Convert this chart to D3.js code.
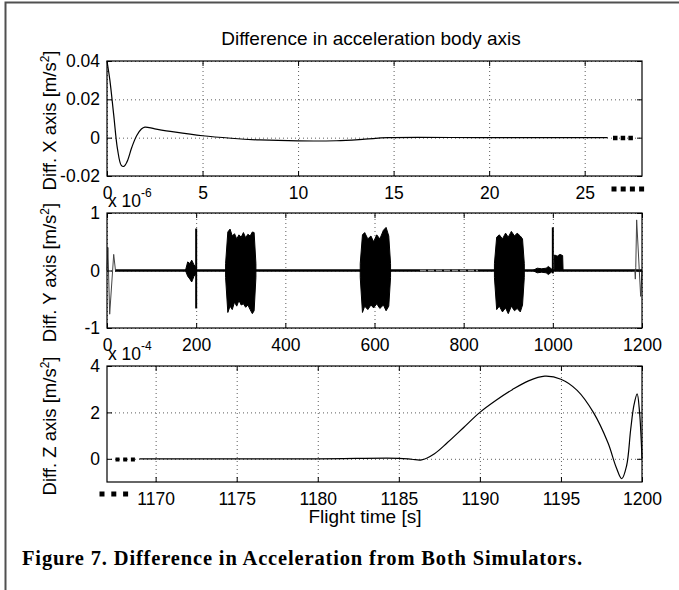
<!DOCTYPE html>
<html>
<head>
<meta charset="utf-8">
<script src="https://cdn.jsdelivr.net/npm/d3@7"></script>
<style>
  body { margin: 0; background: #fff; }
  svg { display: block; font-family: "Liberation Sans", Arial, sans-serif; }
  .grid line { stroke: #333; stroke-width: 0.8; stroke-dasharray: 1 3; }
  .grid .domain { display: none; }
</style>
</head>
<body>
<div id="chart"></div>
<script>
// values

// top panel: difference in X, first seconds
var topTime = [0, 0.15, 0.35, 0.55, 0.75, 0.88, 1.05, 1.3, 1.55, 1.8, 1.98, 2.5, 3.5, 5, 6.5, 8, 10, 12, 13.5, 14.7, 20, 26.2];
var topDiff = [0.04, 0.03, 0.012, -0.006, -0.0145, -0.015, -0.0125, -0.005, 0.001, 0.0045, 0.0055, 0.0046, 0.003, 0.001, -0.0003, -0.0012, -0.0017, -0.0016, -0.0008, 0, 0, 0];
var topXTicks = [0, 5, 10, 15, 20, 25];
var topYTicks = [-0.02, 0, 0.02, 0.04];

// middle panel: difference in Y (x 1e-6), whole flight
var midXTicks = [0, 200, 400, 600, 800, 1000, 1200];
var midYTicks = [-1, 0, 1];
var midBaseTime = [18, 1200];
var midFaintTime = [702, 832];
var midStartTime = [0, 2, 6, 15, 19];
var midStartDiff = [0, 0.4, -0.76, 0.28, 0];
var midEndTime = [1184, 1185, 1186, 1188, 1197, 1200];
var midEndDiff = [0, -0.15, 0.05, 0.88, -0.45, 0];
var midSpikeTime = [200, 1000];
var midSpikeLo = [-0.66, -0.05];
var midSpikeHi = [0.73, 0.75];

var burstTime = [
  [176, 181, 186, 190, 195, 200],
  [266, 271, 276, 281, 286, 291, 296, 301, 306, 311, 316, 321, 326, 330, 334],
  [568, 573, 578, 585, 592, 598, 605, 612, 620, 626, 632, 636],
  [869, 874, 880, 887, 894, 900, 907, 914, 920, 927, 932, 936],
  [955, 965, 975, 985, 990, 998],
  [1003, 1004, 1010, 1016, 1022, 1023]
];
var burstHi = [
  [0, 0.15, 0.12, 0.18, 0.1, 0.05],
  [0.12, 0.67, 0.72, 0.6, 0.64, 0.55, 0.62, 0.58, 0.66, 0.57, 0.63, 0.6, 0.67, 0.66, 0.12],
  [0.12, 0.62, 0.66, 0.55, 0.6, 0.5, 0.62, 0.55, 0.7, 0.75, 0.6, 0.12],
  [0.12, 0.58, 0.62, 0.55, 0.65, 0.58, 0.68, 0.6, 0.65, 0.6, 0.55, 0.12],
  [0, 0.04, 0.03, 0.04, 0.07, 0.02],
  [0, 0.27, 0.25, 0.28, 0.26, 0]
];
var burstLo = [
  [0, -0.1, -0.15, -0.2, -0.1, -0.05],
  [-0.12, -0.73, -0.62, -0.68, -0.55, -0.62, -0.52, -0.6, -0.58, -0.64, -0.6, -0.68, -0.75, -0.7, -0.12],
  [-0.12, -0.73, -0.62, -0.68, -0.6, -0.65, -0.58, -0.66, -0.6, -0.7, -0.62, -0.12],
  [-0.12, -0.68, -0.62, -0.72, -0.65, -0.75, -0.62, -0.7, -0.66, -0.72, -0.6, -0.12],
  [0, -0.04, -0.03, -0.04, -0.07, -0.02],
  [0, 0, 0, 0, 0, 0]
];

// bottom panel: difference in Z (x 1e-4), last seconds
var botTime = [1169, 1180, 1185, 1185.8, 1186.4, 1187.2, 1188, 1189, 1190, 1191, 1192, 1193, 1194, 1195, 1196, 1197, 1197.9, 1198.4, 1198.75, 1199.05, 1199.3, 1199.5, 1199.7, 1199.85, 1200];
var botDiff = [0, 0, 0.02, -0.02, -0.05, 0.22, 0.7, 1.35, 2.0, 2.52, 2.98, 3.36, 3.56, 3.43, 2.95, 2.0, 0.69, -0.35, -0.86, -0.3, 1.25, 2.3, 2.8, 2.0, 0];
var botXTicks = [1170, 1175, 1180, 1185, 1190, 1195, 1200];
var botYTicks = [0, 2, 4];

var W = 679, H = 590;
var left = 107, right = 642;

var svg = d3.select("#chart").append("svg")
  .attr("width", W)
  .attr("height", H);

// page frame (top and left edges only)
svg.append("path")
  .attr("d", "M5.5,590 V2.5 H679")
  .attr("fill", "none")
  .attr("stroke", "#505050")
  .attr("stroke-width", 2);

function drawPanel(cfg) {
  var w = right - left, h = cfg.bottom - cfg.top;
  var x = d3.scaleLinear().domain(cfg.xDomain).range([0, w]);
  var y = d3.scaleLinear().domain(cfg.yDomain).range([h, 0]);

  var g = svg.append("g")
    .attr("transform", "translate(" + left + "," + cfg.top + ")");

  // dotted grid
  g.append("g").attr("class", "grid")
    .attr("transform", "translate(0," + h + ")")
    .call(d3.axisBottom(x).tickValues(cfg.xTicks).tickSize(-h).tickFormat(""));
  g.append("g").attr("class", "grid")
    .call(d3.axisLeft(y).tickValues(cfg.yTicks).tickSize(-w).tickFormat(""));

  var plot = g.append("g");
  cfg.draw(plot, x, y);

  // axes with inward ticks on all four sides
  var xb = g.append("g")
    .attr("transform", "translate(0," + h + ")")
    .call(d3.axisBottom(x).tickValues(cfg.xTicks).tickSizeInner(-5).tickSizeOuter(0).tickPadding(11)
      .tickFormat(function(d) { return d; }));
  var yl = g.append("g")
    .call(d3.axisLeft(y).tickValues(cfg.yTicks).tickSizeInner(-5).tickSizeOuter(0).tickPadding(7)
      .tickFormat(function(d) { return d; }));
  g.append("g")
    .call(d3.axisTop(x).tickValues(cfg.xTicks).tickSizeInner(-5).tickSizeOuter(0).tickFormat(""));
  g.append("g")
    .attr("transform", "translate(" + w + ",0)")
    .call(d3.axisRight(y).tickValues(cfg.yTicks).tickSizeInner(-5).tickSizeOuter(0).tickFormat(""));

  g.selectAll(".domain").filter(function() { return !this.parentNode.classList.contains("grid"); }).remove();
  g.selectAll(".tick line").filter(function() { return !this.parentNode.parentNode.classList.contains("grid"); })
    .attr("stroke", "#000");
  [xb, yl].forEach(function(a) {
    a.attr("font-family", null).attr("font-size", null);
    a.selectAll("text").attr("font-size", 17.5).attr("fill", "#000");
  });

  g.append("rect")
    .attr("width", w)
    .attr("height", h)
    .attr("fill", "none")
    .attr("stroke", "#000")
    .attr("stroke-width", 1.2);

  // y label
  var lab = svg.append("text")
    .attr("transform", "translate(56," + (cfg.top + h / 2 + 2) + ") rotate(-90)")
    .attr("text-anchor", "middle")
    .attr("font-size", 18.5);
  lab.append("tspan").text(cfg.ylabel + " [m/s");
  lab.append("tspan").attr("font-size", 12).attr("dy", -7).text("2");
  lab.append("tspan").attr("dy", 7).text("]");

  if (cfg.exponent) {
    var ex = svg.append("text")
      .attr("x", left + 1)
      .attr("y", cfg.top - 6)
      .attr("font-size", 17.5);
    ex.append("tspan").text("x 10");
    ex.append("tspan").attr("font-size", 12).attr("dy", -10).text(cfg.exponent);
  }
  return {x: x, y: y, g: g};
}

// top panel
drawPanel({
  top: 61, bottom: 176,
  xDomain: [0, 28], yDomain: [-0.02, 0.04],
  xTicks: topXTicks, yTicks: topYTicks,
  ylabel: "Diff. X axis",
  draw: function(p, x, y) {
    p.append("path")
      .datum(d3.zip(topTime, topDiff))
      .attr("fill", "none")
      .attr("stroke", "#000")
      .attr("stroke-width", 1.2)
      .attr("d", d3.line().curve(d3.curveCatmullRom.alpha(0.5))
        .x(function(d) { return x(d[0]); })
        .y(function(d) { return y(d[1]); }));
  }
});

// middle panel
drawPanel({
  top: 213, bottom: 328,
  xDomain: [0, 1200], yDomain: [-1, 1],
  xTicks: midXTicks, yTicks: midYTicks,
  ylabel: "Diff. Y axis", exponent: "-6",
  draw: function(p, x, y) {
    var line = d3.line()
      .x(function(d) { return x(d[0]); })
      .y(function(d) { return y(d[1]); });

    p.append("path")
      .datum(midBaseTime.map(function(t) { return [t, 0]; }))
      .attr("fill", "none").attr("stroke", "#000").attr("stroke-width", 2.4)
      .attr("d", line);
    p.append("path")
      .datum(midFaintTime.map(function(t) { return [t, 0]; }))
      .attr("fill", "none").attr("stroke", "#888").attr("stroke-width", 1.6)
      .attr("stroke-dasharray", "6 2")
      .attr("d", line);

    [[midStartTime, midStartDiff], [midEndTime, midEndDiff]].forEach(function(s) {
      p.append("path")
        .datum(d3.zip(s[0], s[1]))
        .attr("fill", "none").attr("stroke", "#444").attr("stroke-width", 1)
        .attr("d", line);
    });

    var area = d3.area()
      .x(function(d) { return x(d[0]); })
      .y0(function(d) { return y(d[1]); })
      .y1(function(d) { return y(d[2]); });
    burstTime.forEach(function(ts, i) {
      p.append("path")
        .datum(d3.zip(ts, burstLo[i], burstHi[i]))
        .attr("fill", "#000")
        .attr("stroke", "#000")
        .attr("stroke-width", 1)
        .attr("d", area);
    });

    p.selectAll(".spike")
      .data(midSpikeTime)
      .enter().append("line")
      .attr("class", "spike")
      .attr("x1", function(d) { return x(d); })
      .attr("x2", function(d) { return x(d); })
      .attr("y1", function(d, i) { return y(midSpikeLo[i]); })
      .attr("y2", function(d, i) { return y(midSpikeHi[i]); })
      .attr("stroke", "#000")
      .attr("stroke-width", 2);
  }
});

// bottom panel
drawPanel({
  top: 366, bottom: 482,
  xDomain: [1167, 1200], yDomain: [-1, 4],
  xTicks: botXTicks, yTicks: botYTicks,
  ylabel: "Diff. Z axis", exponent: "-4",
  draw: function(p, x, y) {
    p.append("path")
      .datum(d3.zip(botTime, botDiff))
      .attr("fill", "none")
      .attr("stroke", "#000")
      .attr("stroke-width", 1.2)
      .attr("d", d3.line().curve(d3.curveCatmullRom.alpha(0.5))
        .x(function(d) { return x(d[0]); })
        .y(function(d) { return y(d[1]); }));
  }
});

// "continues" dots
function dots(x0, yc, n, step, size) {
  for (var i = 0; i < n; i++) {
    svg.append("rect")
      .attr("x", x0 + i * step)
      .attr("y", yc - size / 2)
      .attr("width", size)
      .attr("height", size)
      .attr("fill", "#000");
  }
}
dots(613, 138, 3, 7.7, 4.5);
dots(611.5, 189, 4, 9.2, 5);
dots(115.5, 459.5, 3, 7.7, 4);
dots(99.5, 494, 3, 11.8, 5);

// titles
svg.append("text")
  .attr("x", 371)
  .attr("y", 45)
  .attr("text-anchor", "middle")
  .attr("font-size", 19)
  .text("Difference in acceleration body axis");

svg.append("text")
  .attr("x", 365)
  .attr("y", 523)
  .attr("text-anchor", "middle")
  .attr("font-size", 19)
  .text("Flight time [s]");

svg.append("text")
  .attr("x", 22)
  .attr("y", 565)
  .attr("font-family", "'Liberation Serif', 'Times New Roman', serif")
  .attr("font-weight", "bold")
  .attr("font-size", 20.5)
  .attr("textLength", 560)
  .attr("lengthAdjust", "spacing")
  .text("Figure 7. Difference in Acceleration from Both Simulators.");
</script>
</body>
</html>
